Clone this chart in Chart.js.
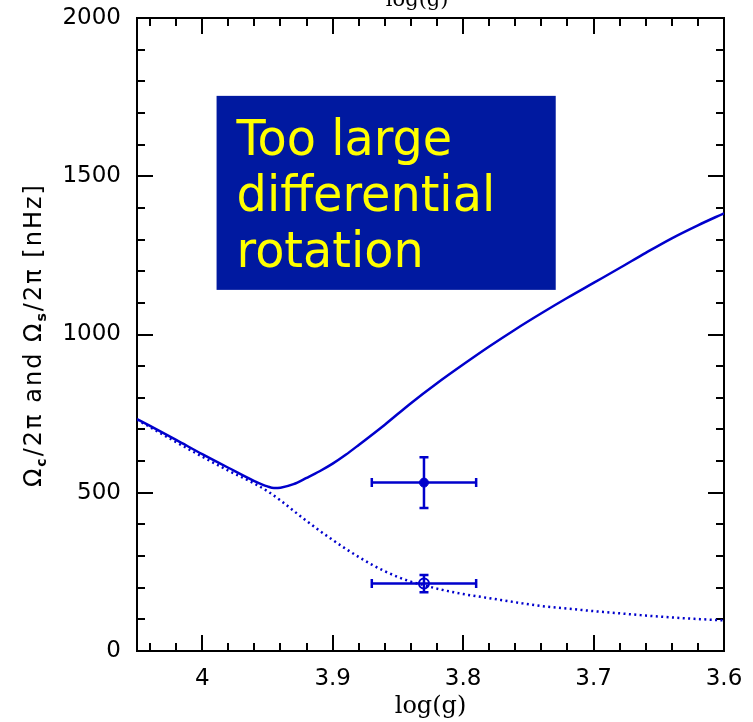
<!DOCTYPE html>
<html>
<head>
<meta charset="utf-8">
<script src="https://cdn.jsdelivr.net/npm/chart.js@4.4.1/dist/chart.umd.min.js"></script>
<style>
  html, body { margin: 0; padding: 0; background: #fff; }
  #wrap { width: 753px; height: 722px; position: relative; }
</style>
</head>
<body>
<div id="wrap"><canvas id="rotChart"></canvas></div>
<script>
// Omega_c / 2pi (solid curve)
const loggCore = [4.05, 4.02, 4.00, 3.98, 3.96, 3.95, 3.945, 3.94, 3.93, 3.92, 3.91, 3.90, 3.89, 3.88,
                  3.86, 3.84, 3.82, 3.80, 3.78, 3.76, 3.74, 3.72, 3.70, 3.68, 3.66, 3.64, 3.62, 3.60];
const omegaCore = [733, 667, 622, 579, 537, 520, 515, 516, 527, 547, 568, 592, 620, 651,
                   715, 783, 846, 905, 962, 1016, 1067, 1116, 1163, 1210, 1258, 1304, 1345, 1383];

// Omega_s / 2pi (dotted curve)
const loggSurf = [4.05, 4.02, 4.00, 3.98, 3.96, 3.95, 3.94, 3.93, 3.92, 3.91, 3.90, 3.89, 3.88, 3.87,
                  3.86, 3.85, 3.84, 3.83, 3.82, 3.80, 3.78, 3.76, 3.74, 3.72, 3.70, 3.68, 3.66, 3.64, 3.62, 3.60];
const omegaSurf = [731, 660, 614, 570, 529, 505, 476, 443, 411, 380, 351, 323, 297, 273,
                   252, 234, 219, 208, 197, 180, 167, 154, 142, 134, 126, 119, 112, 106, 101, 97];

// observed values with error bars (filled = core, open = surface)
const obsLogg = [3.83, 3.83];
const obsLoggErr = [0.04, 0.04];
const obsOmega = [532, 213];
const obsOmegaErr = [80, 27];

// annotation box corners (data units) and its text
const boxLogg = [3.989, 3.729];
const boxOmega = [1141, 1754];
const boxLines = ['Too large', 'differential', 'rotation'];

const xMin = 3.6, xMax = 4.05;
const yMin = 0, yMax = 2000;

const blue = '#0000cc';
const tickFont = { family: 'DejaVu Sans', size: 23 };

// one axis per side for major ticks, a zero-size one for minor ticks
function edgeAxis(pos, step, len, size, extra) {
  const horiz = pos === 'top' || pos === 'bottom';
  return Object.assign({
    type: 'linear',
    position: pos,
    min: horiz ? xMin : yMin,
    max: horiz ? xMax : yMax,
    reverse: horiz,
    bounds: 'data',
    weight: size > 0 ? 1 : 0,
    ticks: { stepSize: step, includeBounds: false, display: false, autoSkip: false, maxRotation: 0 },
    grid: { drawOnChartArea: false, tickLength: len, tickWidth: 2, tickColor: '#000', lineWidth: 2 },
    border: { display: size > 0, color: '#000', width: 2 },
    afterFit: s => {
      if (horiz) s.height = size; else s.width = size;
      s.paddingLeft = s.paddingRight = s.paddingTop = s.paddingBottom = 0;
    }
  }, extra || {});
}

const scales = {
  x: edgeAxis('bottom', 0.1, -16, 71, {
    ticks: { stepSize: 0.1, includeBounds: false, display: true, autoSkip: false, maxRotation: 0,
             padding: 30, color: '#000', font: tickFont, callback: v => String(+v.toFixed(2)) },
    title: { display: true, text: 'log(g)', color: '#000',
             font: { family: 'DejaVu Serif', size: 24 }, padding: { top: 0, bottom: 1 } }
  }),
  xMinor: edgeAxis('bottom', 0.02, -8, 0),
  xTop: edgeAxis('top', 0.1, -16, 18, {
    title: { display: true, text: 'log(g)    ', color: '#000',
             font: { family: 'DejaVu Serif', size: 21 }, padding: { top: -12, bottom: 0 } }
  }),
  xTopMinor: edgeAxis('top', 0.02, -8, 0),
  y: edgeAxis('left', 500, -16, 137, {
    ticks: { stepSize: 500, includeBounds: false, display: true, autoSkip: false,
             padding: 32, color: '#000', font: tickFont, callback: v => String(v) }
  }),
  yMinor: edgeAxis('left', 100, -8, 0),
  yRight: edgeAxis('right', 500, -16, 29),
  yRightMinor: edgeAxis('right', 100, -8, 0)
};

const extras = {
  id: 'extras',
  beforeDatasetsDraw(chart) {
    const { ctx, scales: { x, y } } = chart;
    ctx.save();
    ctx.strokeStyle = blue;
    ctx.lineWidth = 2.5;
    obsLogg.forEach((g, i) => {
      const px = x.getPixelForValue(g), py = y.getPixelForValue(obsOmega[i]);
      const x0 = x.getPixelForValue(g + obsLoggErr[i]), x1 = x.getPixelForValue(g - obsLoggErr[i]);
      const y0 = y.getPixelForValue(obsOmega[i] - obsOmegaErr[i]);
      const y1 = y.getPixelForValue(obsOmega[i] + obsOmegaErr[i]);
      ctx.beginPath();
      ctx.moveTo(x0, py); ctx.lineTo(x1, py);
      ctx.moveTo(px, y0); ctx.lineTo(px, y1);
      ctx.moveTo(x0, py - 4.5); ctx.lineTo(x0, py + 4.5);
      ctx.moveTo(x1, py - 4.5); ctx.lineTo(x1, py + 4.5);
      ctx.moveTo(px - 4.5, y0); ctx.lineTo(px + 4.5, y0);
      ctx.moveTo(px - 4.5, y1); ctx.lineTo(px + 4.5, y1);
      ctx.stroke();
    });
    ctx.restore();
  },
  afterDatasetsDraw(chart) {
    const { ctx, scales: { x, y } } = chart;
    const left = x.getPixelForValue(boxLogg[0]), right = x.getPixelForValue(boxLogg[1]);
    const top = y.getPixelForValue(boxOmega[1]), bottom = y.getPixelForValue(boxOmega[0]);
    ctx.save();
    ctx.fillStyle = '#0019a0';
    ctx.fillRect(left, top, right - left, bottom - top);
    ctx.fillStyle = '#ffff00';
    ctx.font = '50px "DejaVu Sans"';
    ctx.textBaseline = 'alphabetic';
    boxLines.forEach((line, i) => {
      ctx.save();
      ctx.translate(left + 20, top + 59 + i * 56);
      ctx.scale(0.955, 1);
      ctx.fillText(line, 0, 0);
      ctx.restore();
    });
    ctx.restore();
  },
  afterDraw(chart) {
    // y-axis label with subscripts
    const { ctx } = chart;
    const parts = [['Ω', 0], ['c', 1], ['/2π and Ω', 0], ['s', 1], ['/2π [nHz]', 0]];
    const big = '24px "DejaVu Sans"', small = 'bold 14px "DejaVu Sans"';
    ctx.save();
    let w = 0, n = 0;
    parts.forEach(([t, sub]) => { ctx.font = sub ? small : big; w += ctx.measureText(t).width; n += t.length; });
    const gap = (304 - w) / n;
    ctx.translate(41, 335);
    ctx.rotate(-Math.PI / 2);
    ctx.fillStyle = '#000';
    ctx.textBaseline = 'alphabetic';
    let cx = -152;
    parts.forEach(([t, sub]) => {
      ctx.font = sub ? small : big;
      for (const ch of t) {
        ctx.fillText(ch, cx, sub ? 5 : 0);
        cx += ctx.measureText(ch).width + gap;
      }
    });
    ctx.restore();
  }
};

const ctx = document.getElementById('rotChart').getContext('2d');
const rotChart = new Chart(ctx, {
  type: 'scatter',
  data: {
    datasets: [
      {
        data: loggCore.map((g, i) => ({ x: g, y: omegaCore[i] })),
        showLine: true, borderColor: blue, borderWidth: 2.5, pointRadius: 0,
        cubicInterpolationMode: 'monotone'
      },
      {
        data: loggSurf.map((g, i) => ({ x: g, y: omegaSurf[i] })),
        showLine: true, borderColor: blue, borderWidth: 2.5, borderDash: [2, 3.4], pointRadius: 0,
        cubicInterpolationMode: 'monotone'
      },
      {
        data: [{ x: obsLogg[0], y: obsOmega[0] }],
        pointRadius: 4.5, backgroundColor: blue, borderColor: blue, borderWidth: 1
      },
      {
        data: [{ x: obsLogg[1], y: obsOmega[1] }],
        pointRadius: 5, backgroundColor: 'rgba(0,0,0,0)', borderColor: blue, borderWidth: 2
      }
    ]
  },
  options: {
    responsive: true,
    maintainAspectRatio: false,
    animation: false,
    layout: { padding: 0 },
    plugins: { legend: { display: false }, tooltip: { enabled: false } },
    scales: scales
  },
  plugins: [extras]
});
</script>
</body>
</html>
